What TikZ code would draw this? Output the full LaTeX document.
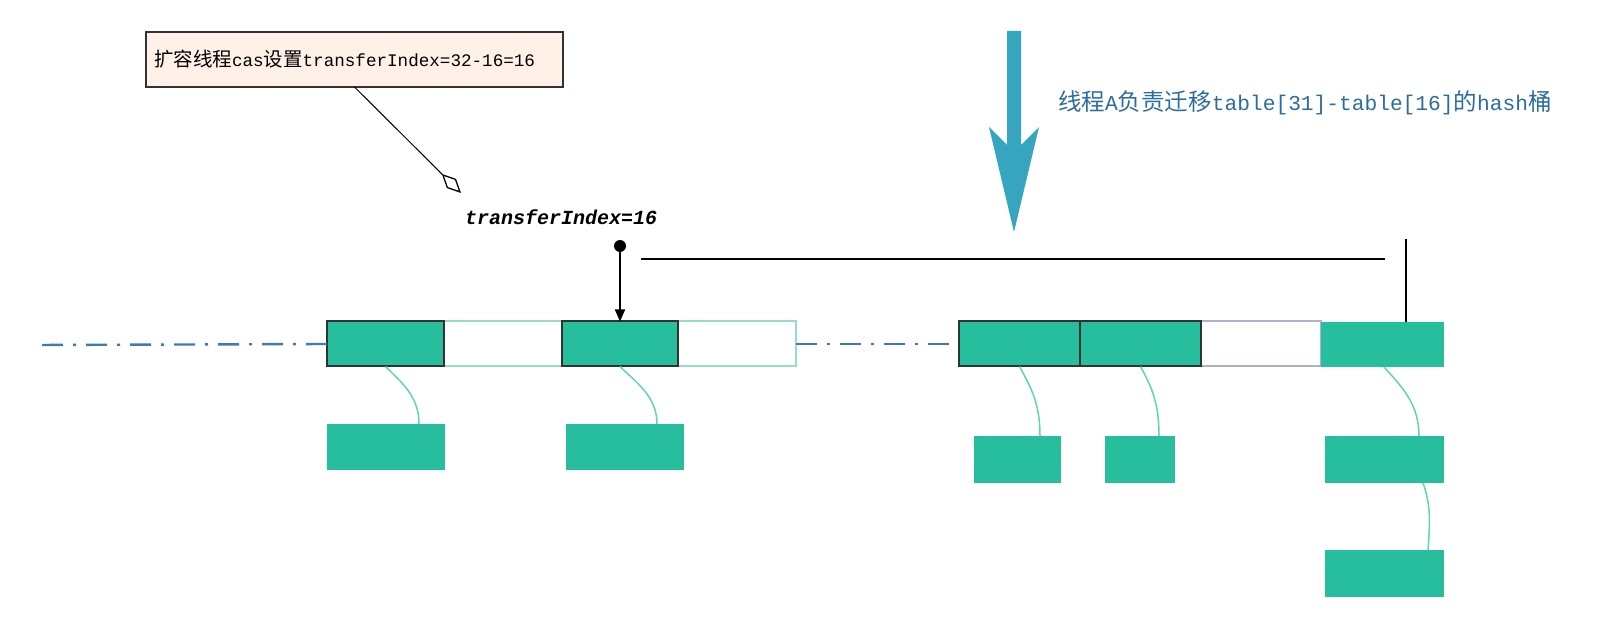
\documentclass[tikz,border=0pt]{standalone}
\usepackage{fontspec}
\newfontfamily\cjk{Noto Sans CJK SC}
\newfontfamily\monof{Liberation Mono}
\usetikzlibrary{arrows.meta,calc}
\definecolor{gr}{RGB}{39,190,158}
\definecolor{linkc}{RGB}{95,212,184}
\definecolor{lightb}{RGB}{150,220,200}
\definecolor{grayb}{RGB}{172,180,204}
\definecolor{notefill}{RGB}{255,241,232}
\definecolor{darkb}{RGB}{50,50,50}
\definecolor{bigarrow}{RGB}{53,165,192}
\definecolor{textblue}{RGB}{45,108,158}
\definecolor{dashc}{RGB}{65,122,175}
\begin{document}
\begin{tikzpicture}[x=1pt,y=-1pt,
  cellbase/.style={rectangle,minimum height=45pt,inner sep=0pt,outer sep=0pt},
  gcell/.style={cellbase,fill=gr,draw=darkb,line width=2pt},
  wcell/.style={cellbase,fill=white,draw=lightb,line width=2pt},
  ocell/.style={cellbase,fill=gr},
  bbox/.style={rectangle,fill=gr,minimum height=47pt,inner sep=0pt,outer sep=0pt},
  link/.style={draw=linkc,line width=1.5pt},
  dashdot/.style={draw=dashc,line width=2.4pt,dash pattern=on 21pt off 10pt on 3pt off 10pt},
  blk/.style={draw=black,line width=1.6pt}]
\useasboundingbox (0,0) rectangle (1610,620);

% note box
\node[rectangle,draw=darkb,line width=1.5pt,fill=notefill,minimum width=417pt,minimum height=55pt,
      text width=401pt,align=left,inner xsep=8pt,inner ysep=0pt,outer sep=0pt,anchor=center]
  (note) at (354.5,59.5) {\raisebox{-2pt}{\fontsize{19.5}{22}\selectfont{\cjk 扩容线程}{\monof\fontsize{17.6}{22}\selectfont cas}{\cjk 设置}{\monof\fontsize{17.6}{22}\selectfont transferIndex=32-16=16}}};
\coordinate (dia) at (461,193);
\draw[draw=black,line width=1pt,-{Diamond[open,length=27pt,width=13pt,line width=1.3pt]}] (note.south) -- (dia);

% label
\node[anchor=west,inner sep=0pt,font=\monof\bfseries\itshape\fontsize{20}{24}\selectfont] (ti) at (465,217) {transferIndex=16};

% big arrow and text
\fill[bigarrow] (1007,31) -- (1021,31) -- (1021,145) -- (1039,127) -- (1014,232) -- (989,127) -- (1007,145) -- cycle;
\node[anchor=west,inner sep=0pt,text=textblue] (bt) at (1058,103)
  {\fontsize{23.5}{26}\selectfont{\cjk 线程}{\monof\fontsize{21.2}{26}\selectfont A}{\cjk 负责迁移}{\monof\fontsize{21.2}{26}\selectfont table[31]-table[16]}{\cjk 的}{\monof\fontsize{21.2}{26}\selectfont hash}{\cjk 桶}};

% cells row
\node[wcell,minimum width=118pt] (c2) at (503,344) {};
\node[wcell,minimum width=118pt] (c4) at (737,344) {};
\node[cellbase,fill=white,draw=grayb,line width=2pt,minimum width=120pt] (c7) at (1261,344) {};
\node[gcell,minimum width=117pt] (c1) at (385.5,344) {};
\node[gcell,minimum width=116pt] (c3) at (620,344) {};
\node[gcell,minimum width=121pt] (c5) at (1019.5,344) {};
\node[gcell,minimum width=121pt] (c6) at (1140.5,344) {};
\node[ocell,minimum width=123pt] (c8) at (1382.5,344.5) {};

% dash-dot lines
\coordinate (dl) at (35,345);
\draw[dashdot] (c1.west) -- (dl);
\draw[dashdot] (c4.east) -- (c5.west);

% pointer dot and arrow
\node[circle,fill=black,inner sep=0pt,minimum size=12pt] (dot) at (620,246) {};
\draw[blk,-{Triangle[length=12pt,width=10pt]}] (dot) -- (c3.north);

% range line
\coordinate (hl) at (641,259);
\coordinate (hr) at (1385,259);
\draw[blk] (hl) -- (hr);
\coordinate (vt) at (1406,239);
\draw[blk] (vt) -- (vt |- c8.north);

% bottom boxes
\node[bbox,minimum width=118pt,minimum height=46pt] (b1) at (386,447) {};
\node[bbox,minimum width=118pt,minimum height=46pt] (b2) at (625,447) {};
\node[bbox,minimum width=87pt] (b3) at (1017.5,459.5) {};
\node[bbox,minimum width=70pt] (b4) at (1140,459.5) {};
\node[bbox,minimum width=119pt] (b5) at (1384.5,459.5) {};
\node[bbox,minimum width=119pt] (b6) at (1384.5,573.5) {};

% links
\draw[link] (c1.south) .. controls +(16,16) and +(0,-28) .. ([xshift=33pt]b1.north);
\draw[link] (c3.south) .. controls +(16,16) and +(0,-28) .. ([xshift=32pt]b2.north);
\draw[link] (c5.south) .. controls +(12,22) and +(0,-32) .. ([xshift=22.5pt]b3.north);
\draw[link] (c6.south) .. controls +(12,22) and +(0,-32) .. ([xshift=19pt]b4.north);
\draw[link] ([xshift=1.5pt]c8.south) .. controls +(18,20) and +(0,-32) .. ([xshift=34.5pt]b5.north);
\draw[link] ([xshift=38.5pt]b5.south) .. controls +(8,22) and +(2,-28) .. ([xshift=43.5pt]b6.north);
\end{tikzpicture}
\end{document}
